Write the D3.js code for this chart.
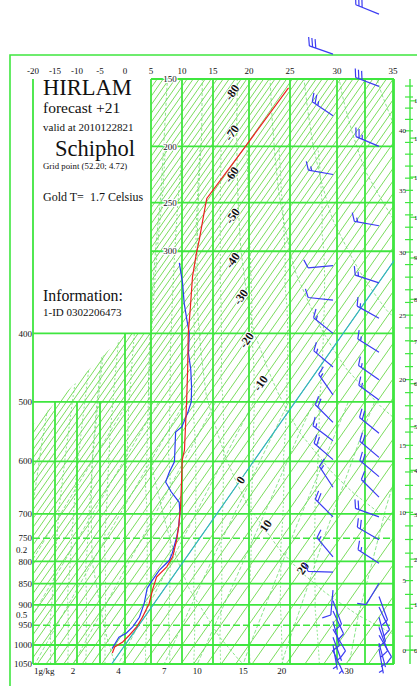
<!DOCTYPE html>
<html>
<head>
<meta charset="utf-8">
<script src="https://cdn.jsdelivr.net/npm/d3@7"></script>
<style>
  html, body { margin: 0; padding: 0; background: #fff; }
  svg { display: block; }
  text { font-family: "Liberation Serif", "DejaVu Serif", serif; fill: #111; }
</style>
</head>
<body>
<svg id="chart" width="417" height="686"></svg>
<script>
// ---------------- data ----------------
const pressureLevels = [150, 200, 250, 300, 400, 500, 600, 700, 750, 800, 850, 900, 950, 1000, 1050];
const gridTemps = [-20, -15, -10, -5, 0, 5, 10, 15, 20, 25, 30, 35];
const extraGridTemps = [32.5];
const isothermLabels = [-80, -70, -60, -50, -40, -30, -20, -10, 0, 10, 20];
const isothermLabelP = [159, 189, 224, 263, 310, 353, 409, 471, 634, 724, 815];
const mixingRatios = [0.2, 0.5, 1, 2, 4, 7, 10, 15, 20, 30];
const dryThetas = [250, 270, 290, 310, 330, 350, 370, 390, 410, 430, 450];
const moistThetaW = [-16, -12, -8, -4, 0, 4, 8, 12, 16, 20, 24, 28];

// temperature profile (hPa, deg C)
const tempP = [156, 200, 246, 257, 288, 302, 329, 366, 400, 451, 500, 580, 598, 634, 686, 726, 753, 790, 812, 835, 865, 896, 930, 954, 975, 992, 1005, 1021];
const tempT = [-61.2, -61.9, -62.7, -60.7, -55.4, -53.3, -49.1, -42.9, -37.9, -30.6, -24.6, -16.6, -15.5, -12.5, -8.5, -5.9, -4.4, -2.8, -2.6, -3.2, -2.2, -1.0, -0.4, -0.2, -0.5, -0.9, -1.8, -1.4];
// second (blue) profile
const dewP = [313, 336, 361, 383, 400, 427, 451, 477, 500, 517, 540, 549, 575, 601, 620, 638, 657, 677, 697, 726, 747, 782, 798, 820, 843, 861, 896, 930, 954, 970, 980, 993, 1009];
const dewT = [-56.7, -51.0, -45.8, -41.0, -37.6, -33.8, -29.7, -26.1, -23.3, -22.2, -21.1, -21.8, -19.2, -17.0, -16.5, -15.8, -12.9, -9.5, -7.8, -5.9, -4.8, -3.4, -3.0, -3.6, -3.6, -3.5, -2.0, -1.0, -1.0, -1.4, -2.3, -2.2, -2.1];

// wind, first column (hPa, degrees, knots)
const wind1P   = [134, 176, 224, 316, 357, 400, 447, 489, 533, 564, 597, 648, 706, 790, 824, 865, 890, 915, 940, 960, 980, 1000, 1015];
const wind1Dir = [289, 304, 280, 265, 276, 309, 310, 325, 315, 307, 311, 327, 315, 320, 272, 185, 160, 155, 165, 150, 160, 170, 155];
const wind1Spd = [30, 25, 15, 10, 10, 15, 15, 15, 20, 15, 20, 15, 20, 15, 10, 10, 10, 10, 10, 10, 5, 5, 5];
// wind, second column
const wind2P   = [111, 155, 200, 273, 336, 380, 426, 466, 497, 551, 593, 628, 667, 706, 753, 804, 849, 880, 905, 930, 955, 975, 995, 1010];
const wind2Dir = [292, 291, 293, 280, 288, 299, 302, 305, 306, 309, 310, 310, 315, 290, 300, 303, 211, 160, 155, 165, 160, 150, 165, 170];
const wind2Spd = [30, 30, 25, 15, 15, 15, 15, 15, 15, 20, 20, 20, 15, 20, 20, 15, 10, 10, 10, 10, 10, 10, 5, 5];

const kftTicks = d3.range(0, 46);
const kmTicks = d3.range(0, 14);

// ---------------- layout ----------------
const plot = { left: 33, right: 394, top: 79, bottom: 664 };
const svg = d3.select("#chart");

// Stuve-type vertical axis: linear in p^kappa
const yP = d3.scalePow().exponent(0.286).domain([150, 1050]).range([plot.top, plot.bottom]);
// isotherm positions along the 1000 hPa level (non-linear temperature axis)
const isoT = [-140, -130, -120, -110, -100, -90, -80, -70, -60, -50, -40, -30, -20, -15, -10, -5, 0, 5, 10, 15, 20, 25, 30, 35, 40];
const isoX = [-335, -305, -275, -245, -215, -185, -155, -127, -98, -68, -37, -3, 33, 55, 77, 100, 125, 151, 182, 213, 249, 290, 337, 393, 455];
const gT = d3.scaleLinear().domain(isoT).range(isoX);
const SKEW = 0.7;
const y1000 = yP(1000);
const xTP = (T, p) => gT(T) + SKEW * (y1000 - yP(p));

const GRID = "#3fe63f", HATCH = "#6bd84a", DASH = "#66dc66";

// clip: the diagram area outside the title panel
const clipPts = [[151, 79], [394, 79], [394, 664], [33, 664], [33, 425], [125, 334], [151, 334]];
svg.append("defs").append("clipPath").attr("id", "diag")
  .append("polygon").attr("points", clipPts.map(d => d.join(",")).join(" "));
svg.select("defs").append("clipPath").attr("id", "plotArea")
  .append("rect").attr("x", plot.left).attr("y", plot.top)
  .attr("width", plot.right - plot.left).attr("height", plot.bottom - plot.top);

// outer frame
svg.append("path").attr("d", "M10,686 L10,55 L417,55")
  .attr("fill", "none").attr("stroke", GRID).attr("stroke-width", 1.6);

const diag = svg.append("g").attr("clip-path", "url(#diag)");

// isotherm hatching, every 2 degrees
d3.range(-140, 42, 2).forEach(T => {
  diag.append("line")
    .attr("x1", xTP(T, 100)).attr("y1", yP(100))
    .attr("x2", xTP(T, 1100)).attr("y2", yP(1100))
    .attr("stroke", HATCH).attr("stroke-width", 0.9);
});

const line = d3.line().x(d => xTP(d.T, d.p)).y(d => yP(d.p));

// dry adiabats
dryThetas.forEach(th => {
  const pts = d3.range(100, 1101, 10).map(p => ({ p, T: th * Math.pow(p / 1000, 0.286) - 273.15 }));
  diag.append("path").attr("d", line(pts)).attr("fill", "none")
    .attr("stroke", DASH).attr("stroke-width", 0.75).attr("stroke-dasharray", "3,2");
});

// moist adiabats (pseudo-adiabatic integration from 1000 hPa)
function moistProfile(tw) {
  const Rd = 287, Lv = 2.5e6, cp = 1005, eps = 0.622;
  const dTdp = (p, Tk) => {
    const Tc = Tk - 273.15;
    const es = 6.112 * Math.exp(17.67 * Tc / (Tc + 243.5));
    const rs = eps * es / (p - es);
    return (Rd * Tk + Lv * rs) / ((cp + Lv * Lv * rs * eps / (Rd * Tk * Tk)) * p);
  };
  const step = (p, Tk, dp) => {
    const k1 = dTdp(p, Tk);
    const k2 = dTdp(p + dp / 2, Tk + k1 * dp / 2);
    return Tk + k2 * dp;
  };
  const up = [], down = [];
  let Tk = tw + 273.15;
  for (let p = 1000; p >= 200; p -= 5) { up.push({ p, T: Tk - 273.15 }); Tk = step(p, Tk, -5); }
  Tk = tw + 273.15;
  for (let p = 1000; p <= 1060; p += 5) { down.push({ p, T: Tk - 273.15 }); Tk = step(p, Tk, 5); }
  return down.reverse().concat(up.slice(1));
}
moistThetaW.forEach(tw => {
  diag.append("path").attr("d", line(moistProfile(tw))).attr("fill", "none")
    .attr("stroke", DASH).attr("stroke-width", 0.75).attr("stroke-dasharray", "2,2");
});

// saturation mixing-ratio lines
function tdFromW(w, p) {
  const e = w * p / (622 + w);
  const l = Math.log(e / 6.112);
  return 243.5 * l / (17.67 - l);
}
mixingRatios.forEach(w => {
  const pts = d3.range(500, 1061, 10).map(p => ({ p, T: tdFromW(w, p) }));
  diag.append("path").attr("d", line(pts)).attr("fill", "none")
    .attr("stroke", DASH).attr("stroke-width", 0.75).attr("stroke-dasharray", "4,2");
});

// grid: isobars
pressureLevels.forEach(p => {
  const dashed = (p === 750 || p === 950);
  svg.append("line")
    .attr("x1", p < 400 ? gT(5) : plot.left).attr("x2", plot.right)
    .attr("y1", yP(p)).attr("y2", yP(p))
    .attr("stroke", GRID).attr("stroke-width", dashed ? 1.4 : 1.8)
    .attr("stroke-dasharray", dashed ? "7,3" : null);
});
// grid: vertical lines
gridTemps.concat(extraGridTemps).forEach(T => {
  const topP = (T > -20 && T < 0) ? 500 : (T === 0 ? 400 : 150);
  svg.append("line")
    .attr("x1", gT(T)).attr("x2", gT(T))
    .attr("y1", yP(topP)).attr("y2", plot.bottom)
    .attr("stroke", GRID).attr("stroke-width", 1.8);
});
svg.append("line").attr("x1", plot.right).attr("x2", plot.right)
  .attr("y1", plot.top).attr("y2", plot.bottom).attr("stroke", GRID).attr("stroke-width", 1.8);

// 0 degree isotherm
svg.append("g").attr("clip-path", "url(#plotArea)").append("line")
  .attr("x1", xTP(0, 100)).attr("y1", yP(100))
  .attr("x2", xTP(0, 1100)).attr("y2", yP(1100))
  .attr("stroke", "#2fb0c8").attr("stroke-width", 1.1);

// isotherm labels
isothermLabels.forEach((T, i) => {
  const p = isothermLabelP[i];
  svg.append("text")
    .attr("transform", `translate(${xTP(T, p)},${yP(p)}) rotate(-55)`)
    .attr("text-anchor", "middle").attr("dy", "0.35em")
    .attr("font-size", 12).attr("font-weight", "bold")
    .attr("stroke", "#fff").attr("stroke-width", 2).attr("paint-order", "stroke")
    .text(T);
});

// profiles
const tempData = tempP.map((p, i) => ({ p, T: tempT[i] }));
const dewData = dewP.map((p, i) => ({ p, T: dewT[i] }));
svg.append("path").attr("d", line(dewData)).attr("fill", "none")
  .attr("stroke", "#2a3cf0").attr("stroke-width", 1.2);
svg.append("path").attr("d", line(tempData)).attr("fill", "none")
  .attr("stroke", "#ee2020").attr("stroke-width", 1.2);

// wind barbs
function drawBarb(g, x0, y0, dir, spd) {
  const L = 25, FL = 9, GAP = 3.4;
  const r = dir * Math.PI / 180, ux = Math.sin(r), uy = -Math.cos(r);
  const px = -uy, py = ux;
  let fx = px * 0.92 + ux * 0.4, fy = py * 0.92 + uy * 0.4;
  const n = Math.hypot(fx, fy); fx /= n; fy /= n;
  const tx = x0 + ux * L, ty = y0 + uy * L;
  let d = `M${x0},${y0}L${tx},${ty}`;
  let s = Math.round(spd / 5) * 5, pos = 0;
  while (s >= 10) {
    const bx = tx - ux * pos, by = ty - uy * pos;
    d += `M${bx},${by}l${fx * FL},${fy * FL}`;
    pos += GAP; s -= 10;
  }
  if (s >= 5) {
    if (pos === 0) pos = GAP;
    const bx = tx - ux * pos, by = ty - uy * pos;
    d += `M${bx},${by}l${fx * FL * 0.5},${fy * FL * 0.5}`;
  }
  g.append("path").attr("d", d).attr("fill", "none")
    .attr("stroke", "#3c3cf2").attr("stroke-width", 1.2);
}
const barbs = svg.append("g");
wind1P.forEach((p, i) => drawBarb(barbs, 333, yP(p), wind1Dir[i], wind1Spd[i]));
wind2P.forEach((p, i) => drawBarb(barbs, 379, yP(p), wind2Dir[i], wind2Spd[i]));

// height axis (standard atmosphere)
function stdP(h) {
  if (h <= 11000) return 1013.25 * Math.pow(1 - 2.25577e-5 * h, 5.25588);
  return 226.32 * Math.exp(-(h - 11000) / 6341.62);
}
const AX = 410;
svg.append("line").attr("x1", AX).attr("x2", AX).attr("y1", plot.top).attr("y2", plot.bottom)
  .attr("stroke", GRID).attr("stroke-width", 1.4);
kftTicks.forEach(k => {
  const y = yP(stdP(k * 304.8));
  if (y < plot.top || y > plot.bottom) return;
  svg.append("line").attr("x1", AX - 5).attr("x2", AX + 3).attr("y1", y).attr("y2", y)
    .attr("stroke", GRID).attr("stroke-width", 1.2);
  if (k % 5 === 0) {
    svg.append("text").attr("x", AX - 4).attr("y", y).attr("dy", "0.35em")
      .attr("text-anchor", "end").attr("font-size", 7).text(k);
  }
});
kmTicks.forEach(k => {
  const y = yP(stdP(k * 1000));
  if (y < plot.top || y > plot.bottom) return;
  svg.append("line").attr("x1", AX).attr("x2", AX + 6).attr("y1", y).attr("y2", y)
    .attr("stroke", GRID).attr("stroke-width", 1.2);
  svg.append("text").attr("x", AX + 4).attr("y", y).attr("dy", "0.35em")
    .attr("font-size", 7).text(k);
});

// axis labels
gridTemps.forEach(T => {
  svg.append("text").attr("x", gT(T)).attr("y", 74).attr("text-anchor", "middle")
    .attr("font-size", 9).text(T);
});
pressureLevels.forEach(p => {
  const inner = p < 400;
  svg.append("text").attr("x", inner ? 170 : 32).attr("y", yP(p)).attr("dy", "0.35em")
    .attr("text-anchor", inner ? "middle" : "end").attr("font-size", 9)
    .attr("stroke", inner ? "#fff" : null).attr("stroke-width", inner ? 2 : null)
    .attr("paint-order", "stroke").text(p);
});
mixingRatios.forEach(w => {
  if (w < 1) {
    // where the line meets the left edge; label sits midway between the enclosing isobars
    let lo = 300, hi = 1050;
    for (let k = 0; k < 40; k++) {
      const mid = (lo + hi) / 2;
      if (xTP(tdFromW(w, mid), mid) > plot.left) lo = mid; else hi = mid;
    }
    const above = d3.max(pressureLevels.filter(p => p <= lo));
    const below = d3.min(pressureLevels.filter(p => p > lo));
    svg.append("text").attr("x", 16).attr("y", (yP(above) + yP(below)) / 2).attr("dy", "0.35em")
      .attr("font-size", 9).text(w);
  } else {
    const x = xTP(tdFromW(w, 1050), 1050);
    svg.append("text").attr("x", w === 1 ? x - 1 : x).attr("y", 674)
      .attr("text-anchor", w === 1 ? "start" : "middle")
      .attr("font-size", 9).text(w === 1 ? "1g/kg" : w);
  }
});

// title panel
const panel = [
  { t: "HIRLAM", x: 43, y: 95, s: 22.5 },
  { t: "forecast +21", x: 43, y: 113, s: 15.5 },
  { t: "valid at 2010122821", x: 43, y: 131, s: 11 },
  { t: "Schiphol", x: 55, y: 156, s: 22.5 },
  { t: "Grid point (52.20; 4.72)", x: 43, y: 169, s: 8.8 },
  { t: "Gold T=  1.7 Celsius", x: 43, y: 201, s: 12 },
  { t: "Information:", x: 43, y: 301, s: 15.8 },
  { t: "1-ID 0302206473", x: 43, y: 316, s: 11 }
];
panel.forEach(d => {
  svg.append("text").attr("x", d.x).attr("y", d.y).attr("font-size", d.s)
    .attr("xml:space", "preserve").style("white-space", "pre").text(d.t);
});
</script>
</body>
</html>
